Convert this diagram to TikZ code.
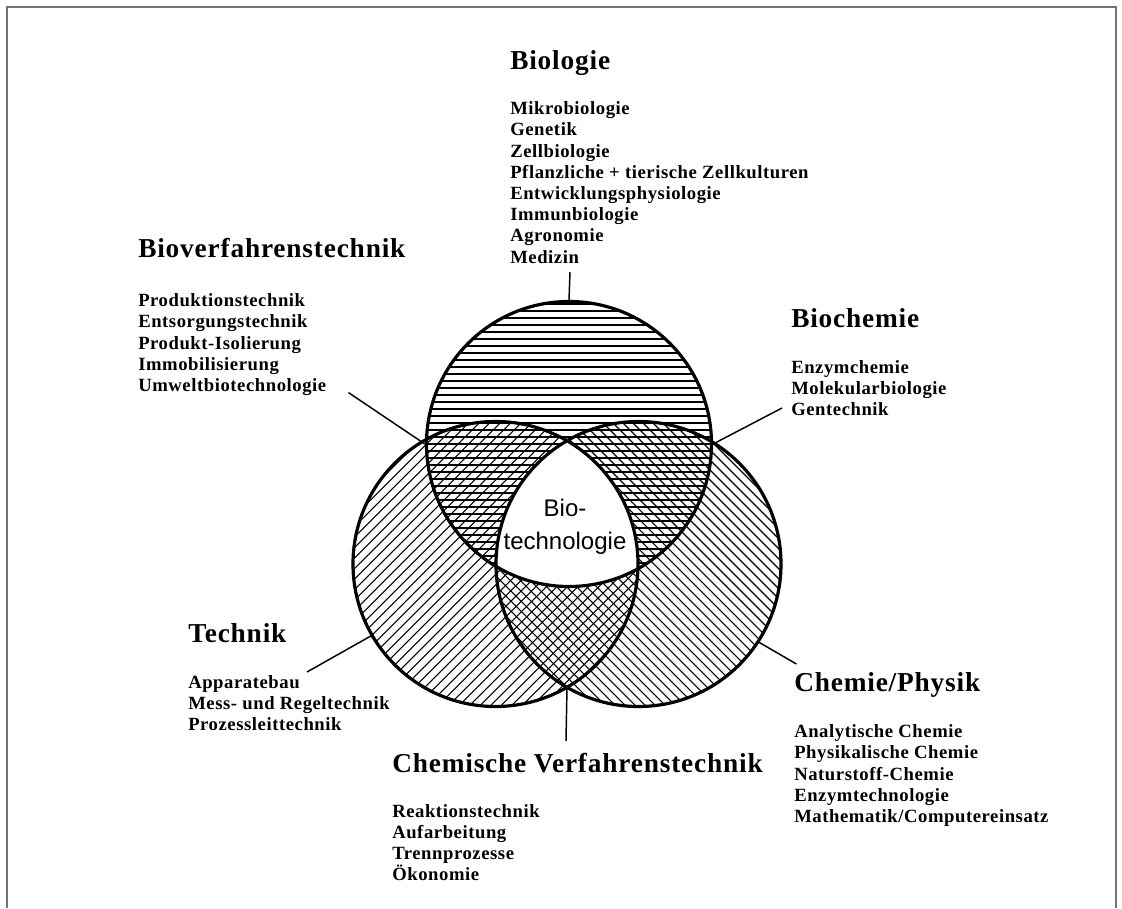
\documentclass[tikz,border=0pt]{standalone}
\usepackage{fontspec}
\setmainfont{Liberation Serif}
\newfontfamily\headfont[LetterSpace=3]{Liberation Serif}
\newfontfamily\listfont[LetterSpace=3]{Liberation Serif}
\newfontfamily\corefont{Liberation Sans}

\tikzset{
  ring/.style={line width=2.4pt},
  hatch/.style={line width=0.8pt},
  leader/.style={line width=1.1pt},
  heading/.style={anchor=base west, inner sep=0pt,
    font=\headfont\bfseries\fontsize{20.5}{24}\selectfont},
  topics/.style={anchor=north west, inner sep=0pt, align=left,
    font=\listfont\bfseries\fontsize{14}{15.9}\selectfont},
}

\begin{document}
\begin{tikzpicture}[x=0.75pt, y=0.75pt, yscale=-1]
  \useasboundingbox (0,0) rectangle (1122,908);
  % Frame (open at the bottom)
  \draw[black!55, line width=0.8pt] (7,908) -- (7,7) -- (1116,7) -- (1116,908);

  % Hatching of the three circles
  \begin{scope}
    \clip (569,444) circle[radius=142.5];
    \foreach \y in {304,311,...,588}
      \draw[hatch] (420,\y) -- (720,\y);
  \end{scope}
  \begin{scope}
    \clip (495.5,564) circle[radius=142.5];
    \foreach \c in {860,870.5,...,1265}
      \draw[hatch] (\c-720,720) -- (\c-410,410);
  \end{scope}
  \begin{scope}
    \clip (638.5,564) circle[radius=142.5];
    \foreach \c in {-130,-120,...,280}
      \draw[hatch] (\c+410,410) -- (\c+720,720);
  \end{scope}
  % Common core stays white
  \begin{scope}
    \clip (569,444) circle[radius=142.5];
    \clip (495.5,564) circle[radius=142.5];
    \fill[white] (638.5,564) circle[radius=142.5];
  \end{scope}

  % Circle outlines
  \node[ring, draw, circle, minimum size=213.75pt, inner sep=0pt] (ctop) at (569,444) {};
  \node[ring, draw, circle, minimum size=213.75pt, inner sep=0pt] (cleft) at (495.5,564) {};
  \node[ring, draw, circle, minimum size=213.75pt, inner sep=0pt] (cright) at (638.5,564) {};
  \node[font=\corefont\fontsize{18}{24.75}\selectfont, align=center] (core) at (565,527) {Bio-\\technologie};

  % Headings and topic lists
  \node[heading] (biol) at (510,69) {Biologie};
  \node[topics] (biol-list) at (510,101.5) {Mikrobiologie\\Genetik\\Zellbiologie\\Pflanzliche + tierische Zellkulturen\\Entwicklungsphysiologie\\Immunbiologie\\Agronomie\\Medizin};
  \node[heading] (bvt) at (138,257) {Bioverfahrenstechnik};
  \node[topics] (bvt-list) at (138,293.5) {Produktionstechnik\\Entsorgungstechnik\\Produkt-Isolierung\\Immobilisierung\\Umweltbiotechnologie};
  \node[heading] (bchem) at (791,327) {Biochemie};
  \node[topics] (bchem-list) at (791,360) {Enzymchemie\\Molekularbiologie\\Gentechnik};
  \node[heading] (tech) at (188,642) {Technik};
  \node[topics] (tech-list) at (188,675) {Apparatebau\\Mess- und Regeltechnik\\Prozessleittechnik};
  \node[heading] (chph) at (794,691) {Chemie/Physik};
  \node[topics] (chph-list) at (794,724.5) {Analytische Chemie\\Physikalische Chemie\\Naturstoff-Chemie\\Enzymtechnologie\\Mathematik/Computereinsatz};
  \node[heading] (cvt) at (392,772) {Chemische Verfahrenstechnik};
  \node[topics] (cvt-list) at (392,804) {Reaktionstechnik\\Aufarbeitung\\Trennprozesse\\Ökonomie};

  % Leader lines
  \coordinate (biol-end) at (570,272);
  \coordinate (bvt-end) at (348.5,392.6);
  \coordinate (bchem-end) at (782,408);
  \coordinate (tech-end) at (307,672);
  \coordinate (chph-end) at (796.4,664);
  \coordinate (cvt-end) at (566,741);
  \coordinate (lr-low) at (567,687.3);
  \draw[leader] (biol-end) -- (ctop.north);
  \draw[leader] (bvt-end) -- (ctop.west);
  \draw[leader] (bchem-end) -- (ctop.east);
  \draw[leader] (tech-end) -- (cleft.210);
  \draw[leader] (chph-end) -- (cright.-33);
  \draw[leader] (cvt-end) -- (lr-low);
\end{tikzpicture}
\end{document}
